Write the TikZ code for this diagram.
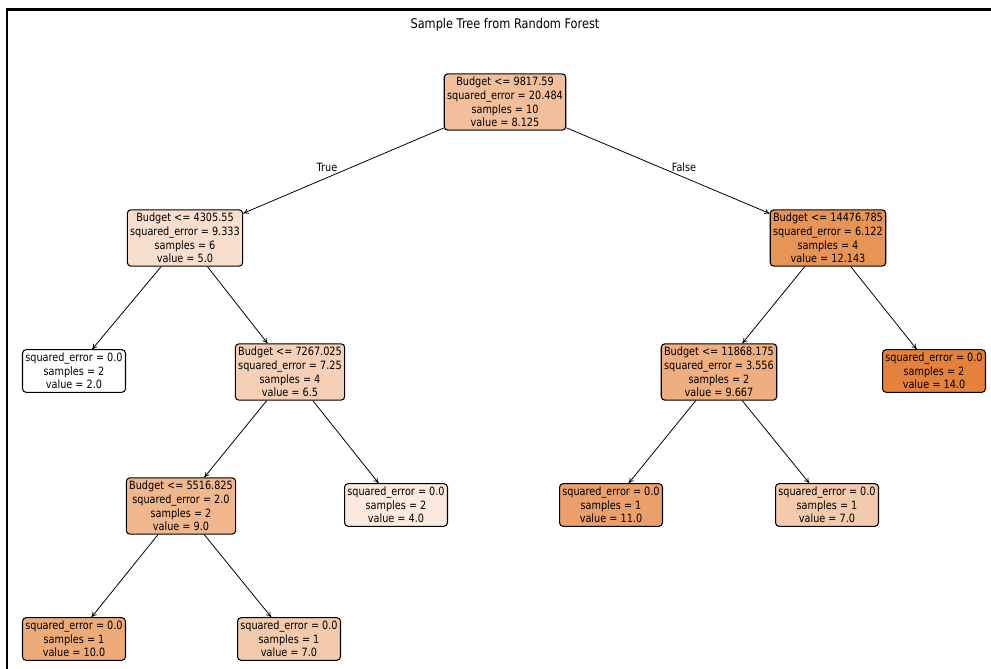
\documentclass[tikz,border=0pt]{standalone}
\usepackage{fontspec}
\setmainfont{DejaVu Sans}[FakeStretch=0.85]
\usepackage{tikz}
\usetikzlibrary{positioning, arrows.meta}
\definecolor{treeorange}{RGB}{229,129,57}
\newcommand{\treefont}{\fontsize{6.5}{7.8}\selectfont}
\begin{document}
\begin{tikzpicture}[
  x=0.02cm, y=-0.02cm,
  >={To[length=3pt,width=3pt]},
  split/.style={draw, line width=0.6pt, rounded corners=2pt, align=center, inner xsep=1.6pt, inner ysep=1.8pt, font=\treefont},
  edge/.style={->, line width=0.45pt},
  branchlabel/.style={font=\treefont}
]
\useasboundingbox (0,0) rectangle (991,669);
% Frame
\draw[line width=1.5pt] (7,669) -- (7,9.5) -- (991,9.5);
\node[font=\fontsize{7.6}{9}\selectfont] (title) at (505,25) {Sample Tree from Random Forest};

% Depth 0
\node[split, fill=treeorange!51] (root) at (505,102) {Budget <= 9817.59\\squared\_error = 20.484\\samples = 10\\value = 8.125};
% Depth 1
\node[split, fill=treeorange!25] (l) at (185,238) {Budget <= 4305.55\\squared\_error = 9.333\\samples = 6\\value = 5.0};
\node[split, fill=treeorange!85] (r) at (828,238) {Budget <= 14476.785\\squared\_error = 6.122\\samples = 4\\value = 12.143};
% Depth 2
\node[split, fill=white] (ll) at (74,371) {squared\_error = 0.0\\samples = 2\\value = 2.0};
\node[split, fill=treeorange!37] (lr) at (290,372) {Budget <= 7267.025\\squared\_error = 7.25\\samples = 4\\value = 6.5};
\node[split, fill=treeorange!64] (rl) at (719,372) {Budget <= 11868.175\\squared\_error = 3.556\\samples = 2\\value = 9.667};
\node[split, fill=treeorange] (rr) at (934,371) {squared\_error = 0.0\\samples = 2\\value = 14.0};
% Depth 3
\node[split, fill=treeorange!58] (lrl) at (181,506) {Budget <= 5516.825\\squared\_error = 2.0\\samples = 2\\value = 9.0};
\node[split, fill=treeorange!17] (lrr) at (396,505) {squared\_error = 0.0\\samples = 2\\value = 4.0};
\node[split, fill=treeorange!75] (rll) at (611,505) {squared\_error = 0.0\\samples = 1\\value = 11.0};
\node[split, fill=treeorange!42] (rlr) at (827,505) {squared\_error = 0.0\\samples = 1\\value = 7.0};
% Depth 4
\node[split, fill=treeorange!67] (lrll) at (74,639) {squared\_error = 0.0\\samples = 1\\value = 10.0};
\node[split, fill=treeorange!42] (lrlr) at (289,639) {squared\_error = 0.0\\samples = 1\\value = 7.0};

% Edges
\draw[edge] (root) -- (l);
\draw[edge] (root) -- (r);
\draw[edge] (l) -- (ll);
\draw[edge] (l) -- (lr);
\draw[edge] (lr) -- (lrl);
\draw[edge] (lr) -- (lrr);
\draw[edge] (lrl) -- (lrll);
\draw[edge] (lrl) -- (lrlr);
\draw[edge] (r) -- (rl);
\draw[edge] (r) -- (rr);
\draw[edge] (rl) -- (rll);
\draw[edge] (rl) -- (rlr);
\node[branchlabel] (truelbl) at (327,167) {True};
\node[branchlabel] (falselbl) at (684,167) {False};
\end{tikzpicture}
\end{document}
